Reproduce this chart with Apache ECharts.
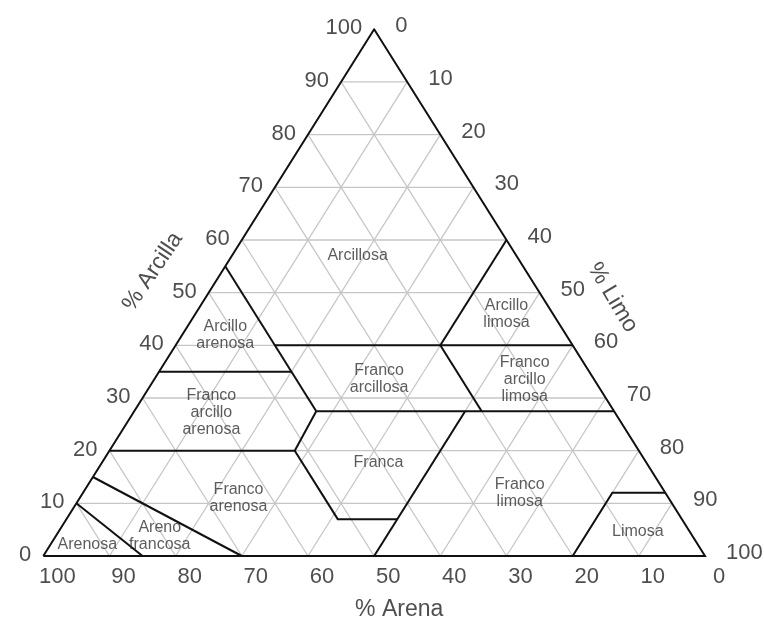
<!DOCTYPE html>
<html>
<head>
<meta charset="utf-8">
<script src="https://cdn.jsdelivr.net/npm/echarts@6/dist/echarts.min.js"></script>
<style>
  html, body { margin: 0; padding: 0; background: #fff; }
  #chart { width: 764px; height: 619px; }
</style>
</head>
<body>
<div id="chart"></div>
<script>
// points are [sand, silt, clay] in percent
var ticks = [0, 10, 20, 30, 40, 50, 60, 70, 80, 90, 100];
var innerTicks = [10, 20, 30, 40, 50, 60, 70, 80, 90];

var outline = [[100, 0, 0], [0, 100, 0], [0, 0, 100], [100, 0, 0]];

// texture class boundaries (USDA)
var boundaries = [
  [[90, 0, 10], [85, 15, 0]],
  [[85, 0, 15], [70, 30, 0]],
  [[80, 0, 20], [52, 28, 20], [52, 41, 7], [43, 50, 7]],
  [[52, 28, 20], [45, 27.5, 27.5]],
  [[45, 0, 55], [45, 27.5, 27.5]],
  [[65, 0, 35], [45, 20, 35]],
  [[45, 15, 40], [0, 60, 40]],
  [[20, 40, 40], [0, 40, 60]],
  [[20, 40, 40], [20, 52.5, 27.5]],
  [[45, 27.5, 27.5], [0, 72.5, 27.5]],
  [[22.5, 50, 27.5], [50, 50, 0]],
  [[20, 80, 0], [8, 80, 12], [0, 88, 12]]
];

var classNames = [
  'Arcillosa', 'Arcillo\nlimosa', 'Arcillo\narenosa', 'Franco\narcillosa',
  'Franco\narcillo\nlimosa', 'Franco\narcillo\narenosa', 'Franca',
  'Franco\narenosa', 'Franco\nlimosa', 'Areno\nfrancosa', 'Arenosa', 'Limosa'
];
var classAnchors = [
  [24, 19, 57], [7, 47, 46], [51.5, 6.5, 42], [32.5, 34, 33.5],
  [10.5, 56, 33.5], [61, 11.8, 27.2], [40.5, 41.8, 17.7],
  [65, 24, 11], [22, 66, 12], [80.5, 15.7, 3.8], [92.3, 5.6, 2.1], [7.8, 87.5, 4.7]
];

var axisTitles = ['% Arena', '% Arcilla', '% Limo'];

function xy(p) { return [p[1] + p[2] / 2, p[2]]; }

// label offsets are applied in the rotated text frame, so turn a screen shift into it
function rotOffset(dx, dy, deg) {
  var t = deg * Math.PI / 180, c = Math.cos(t), s = Math.sin(t);
  return [dx * c - dy * s, dx * s + dy * c];
}

var gridLines = [];
innerTicks.forEach(function (k) {
  gridLines.push({ coords: [xy([100 - k, 0, k]), xy([0, 100 - k, k])] });
  gridLines.push({ coords: [xy([100 - k, k, 0]), xy([0, k, 100 - k])] });
  gridLines.push({ coords: [xy([k, 100 - k, 0]), xy([k, 0, 100 - k])] });
});

var ink = '#111';
var text = '#222';
var font = 'Liberation Sans';

function tickSeries(pointFn, label) {
  return {
    type: 'scatter', symbolSize: 0, clip: false, silent: true,
    data: ticks.map(function (k) { return { value: xy(pointFn(k)), name: String(k) }; }),
    label: Object.assign({
      show: true, formatter: '{b}', color: text, fontSize: 22, fontFamily: font
    }, label)
  };
}

var chart = echarts.init(document.getElementById('chart'), null, { renderer: 'canvas' });
chart.setOption({
  animation: false,
  backgroundColor: '#fff',
  grid: { left: 43.3, right: 59, top: 29.3, bottom: 63 },
  xAxis: { type: 'value', min: 0, max: 100, show: false },
  yAxis: { type: 'value', min: 0, max: 100, show: false },
  series: [
    {
      type: 'lines', coordinateSystem: 'cartesian2d', polyline: true, silent: true,
      data: gridLines,
      lineStyle: { color: '#c6c6c6', width: 1.3, opacity: 1 }
    },
    {
      type: 'lines', coordinateSystem: 'cartesian2d', polyline: true, silent: true,
      data: boundaries.map(function (b) { return { coords: b.map(xy) }; }),
      lineStyle: { color: ink, width: 2, opacity: 1 }
    },
    {
      type: 'lines', coordinateSystem: 'cartesian2d', polyline: true, silent: true,
      data: [{ coords: outline.map(xy) }],
      lineStyle: { color: ink, width: 2, opacity: 1, join: 'miter' }
    },
    {
      type: 'scatter', symbolSize: 0, clip: false, silent: true,
      data: classAnchors.map(function (p, i) { return { value: xy(p), name: classNames[i] }; }),
      label: {
        show: true, position: 'inside', formatter: '{b}', color: '#333',
        fontSize: 16, lineHeight: 17, fontFamily: font
      }
    },
    // % Arcilla (left side)
    tickSeries(function (k) { return [100 - k, 0, k]; },
      { position: 'left', distance: 12, offset: [0, -1] }),
    // % Arena (bottom)
    tickSeries(function (k) { return [k, 100 - k, 0]; },
      { position: 'bottom', distance: 10, offset: [14, 0] }),
    // % Limo (right side)
    tickSeries(function (k) { return [0, k, 100 - k]; },
      { position: 'right', distance: 21, offset: [0, -3] }),
    {
      type: 'scatter', symbolSize: 0, clip: false, silent: true,
      data: [
        { value: xy([50, 50, 0]), name: axisTitles[0],
          label: { offset: [25, 54], rotate: 0 } },
        { value: xy([50, 0, 50]), name: axisTitles[1],
          label: { offset: rotOffset(-56, -21, 56), rotate: 56 } },
        { value: xy([0, 50, 50]), name: axisTitles[2],
          label: { offset: rotOffset(73, 5, -59), rotate: -59 } }
      ],
      label: {
        show: true, position: 'inside', formatter: '{b}', color: text,
        fontSize: 23, fontFamily: font
      }
    }
  ]
});
window.addEventListener('resize', function () { chart.resize(); });
</script>
</body>
</html>
